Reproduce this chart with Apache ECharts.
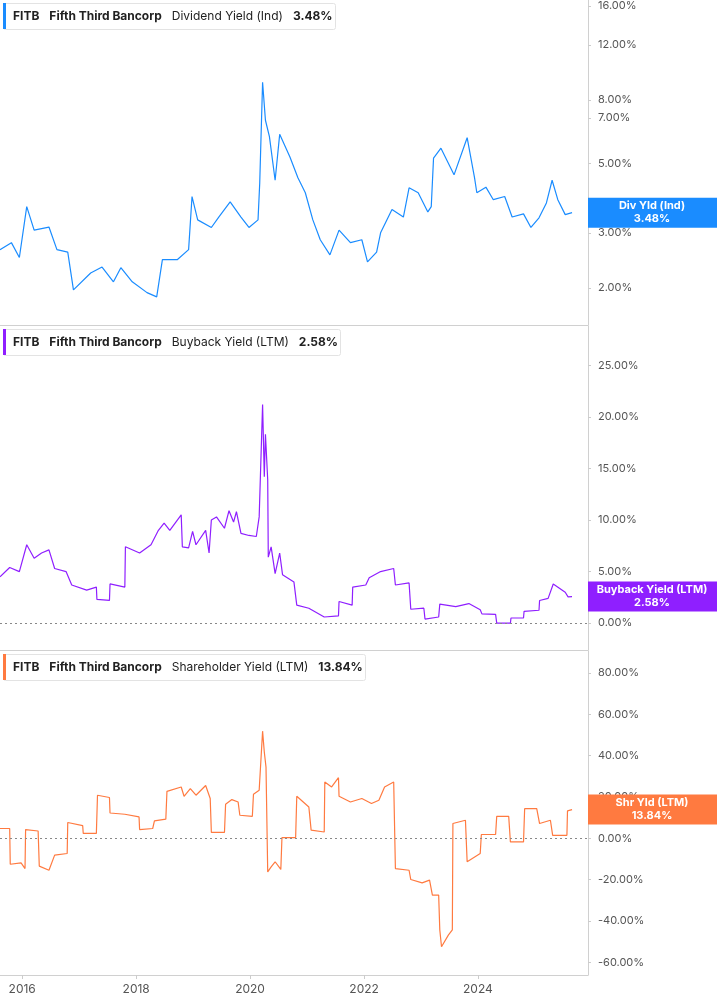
<!DOCTYPE html>
<html>
<head>
<meta charset="utf-8">
<title>FITB yields</title>
<script src="https://cdn.jsdelivr.net/npm/echarts@6/dist/echarts.min.js"></script>
<style>
  html, body { margin: 0; padding: 0; background: #fff; }
  #chart { width: 717px; height: 1005px; }
</style>
</head>
<body>
<div id="chart"></div>
<script>
// dates as decimal years
var divDates = [2015.61,2015.81,2015.95,2016.08,2016.21,2016.47,2016.61,2016.80,2016.90,2017.20,2017.40,2017.60,2017.73,2017.93,2018.19,2018.36,2018.46,2018.72,2018.92,2018.98,2019.08,2019.32,2019.45,2019.65,2019.84,2019.98,2020.14,2020.17,2020.22,2020.27,2020.34,2020.44,2020.52,2020.70,2020.84,2020.97,2021.10,2021.23,2021.40,2021.56,2021.76,2021.96,2022.06,2022.22,2022.29,2022.49,2022.69,2022.79,2022.95,2023.12,2023.18,2023.22,2023.35,2023.58,2023.81,2023.94,2023.98,2024.14,2024.27,2024.47,2024.60,2024.80,2024.93,2025.07,2025.20,2025.30,2025.40,2025.53,2025.65];
var divValues = [2.65,2.79,2.5,3.64,3.06,3.13,2.65,2.6,1.97,2.23,2.33,2.09,2.32,2.09,1.93,1.87,2.46,2.46,2.65,3.92,3.3,3.12,3.37,3.77,3.37,3.12,3.3,4.34,9.1,6.88,6.1,4.42,6.2,5.25,4.5,4.03,3.3,2.85,2.55,3.06,2.79,2.85,2.42,2.6,3.0,3.56,3.37,4.18,4.03,3.5,3.64,5.2,5.6,4.6,6.05,4.5,4.03,4.2,3.83,3.92,3.37,3.45,3.12,3.35,3.74,4.42,3.83,3.43,3.48];

var bbDates = [2015.61,2015.78,2015.95,2016.08,2016.21,2016.34,2016.47,2016.57,2016.77,2016.87,2017.13,2017.30,2017.31,2017.53,2017.54,2017.80,2017.81,2018.06,2018.26,2018.39,2018.49,2018.59,2018.79,2018.81,2018.92,2018.99,2019.05,2019.22,2019.28,2019.32,2019.41,2019.55,2019.63,2019.71,2019.76,2019.84,2019.98,2020.11,2020.16,2020.22,2020.25,2020.27,2020.31,2020.32,2020.37,2020.44,2020.52,2020.57,2020.77,2020.82,2021.03,2021.30,2021.55,2021.56,2021.79,2021.80,2022.03,2022.09,2022.29,2022.52,2022.55,2022.79,2022.82,2023.05,2023.07,2023.31,2023.33,2023.61,2023.84,2024.04,2024.07,2024.31,2024.33,2024.57,2024.58,2024.80,2024.81,2025.07,2025.08,2025.23,2025.32,2025.53,2025.58,2025.65];
var bbValues = [4.5,5.4,5.0,7.6,6.3,6.8,7.1,5.3,5.0,3.7,3.2,3.5,2.3,2.2,3.8,3.5,7.4,6.8,7.6,9.0,9.7,9.0,10.5,7.4,7.3,8.9,7.6,9.0,6.8,10.0,10.3,9.2,10.9,9.8,10.8,8.7,8.5,8.4,10.3,21.2,14.2,18.3,13.9,6.4,7.4,4.8,6.8,4.7,4.0,1.75,1.45,0.6,0.7,2.1,1.75,3.5,3.7,4.4,5.0,5.3,3.7,3.9,1.35,1.45,0.4,0.6,1.85,1.6,1.9,1.3,0.9,0.85,0.0,0.0,0.5,0.5,1.15,1.25,2.2,2.4,3.8,3.0,2.55,2.58];

var shDates = [2015.61,2015.78,2015.79,2015.98,2016.05,2016.06,2016.28,2016.30,2016.47,2016.57,2016.79,2016.80,2017.06,2017.07,2017.30,2017.32,2017.53,2017.54,2017.80,2018.05,2018.06,2018.29,2018.32,2018.52,2018.54,2018.79,2018.84,2018.95,2019.05,2019.22,2019.30,2019.32,2019.55,2019.57,2019.68,2019.79,2019.82,2020.04,2020.06,2020.16,2020.22,2020.25,2020.28,2020.31,2020.37,2020.44,2020.54,2020.56,2020.80,2020.82,2021.03,2021.07,2021.30,2021.31,2021.43,2021.55,2021.56,2021.76,2021.96,2022.13,2022.26,2022.36,2022.52,2022.55,2022.79,2022.82,2023.02,2023.15,2023.20,2023.31,2023.33,2023.36,2023.48,2023.55,2023.56,2023.78,2023.81,2024.04,2024.06,2024.31,2024.33,2024.54,2024.57,2024.80,2024.82,2025.03,2025.08,2025.27,2025.31,2025.56,2025.57,2025.65];
var shValues = [4.7,4.7,-12.6,-11.9,-14.7,4.2,3.5,-13.5,-15.5,-8.2,-7.4,7.6,6.1,2.3,2.3,20.8,19.7,12.2,11.6,10.3,4.2,4.7,8.4,9.2,22.7,24.8,20.3,24.0,20.8,25.5,19.2,2.8,2.8,16.4,18.7,17.5,11.1,10.6,21.3,23.2,51.8,41.7,34.4,-16.3,-13.9,-11.4,-15.1,0.3,0.3,20.3,15.1,3.9,3.0,27.2,24.8,29.3,20.3,17.5,19.2,16.8,18.4,24.8,27.2,-14.7,-15.5,-20.0,-21.6,-20.3,-27.5,-27.5,-44.4,-52.5,-46.9,-44.4,7.1,8.7,-11.4,-7.4,1.8,1.8,10.6,10.6,-1.8,-1.8,14.3,14.3,7.1,8.7,1.4,1.4,13.2,13.84];

var yearTicks = [2016, 2018, 2020, 2022, 2024];
var divTicks = [2, 3, 5, 7, 8, 12, 16];
var bbTicks = [0, 5, 10, 15, 20, 25];
var shTicks = [-60, -40, -20, 0, 20, 40, 60, 80];

var colors = ['#1a8cff', '#8f1fff', '#ff7a40'];

function toTs(y) {
    var yr = Math.floor(y);
    return Date.UTC(yr, 0, 1) + (y - yr) * 365.25 * 864e5;
}
function pairs(d, v) {
    var out = [];
    for (var i = 0; i < d.length; i++) out.push([toTs(d[i]), v[i]]);
    return out;
}

var xMin = toTs(2015.61), xMax = toTs(2025.93);
var lbl = { color: '#555', fontSize: 11, fontFamily: 'Inter', margin: 10 };
function pct(v) { return v.toFixed(2) + '%'; }

function xAxis(idx, last) {
    return {
        type: 'value', gridIndex: idx, min: xMin, max: xMax,
        axisLine: { show: true, onZero: false, lineStyle: { color: '#d0d0d0' } },
        axisTick: { show: last, customValues: yearTicks.map(toTs), length: 4, lineStyle: { color: '#ccc' } },
        splitLine: { show: false },
        axisLabel: {
            show: last, customValues: yearTicks.map(toTs), color: '#555', fontSize: 12, fontFamily: 'Inter',
            formatter: function (v) { return new Date(v).getUTCFullYear(); }
        }
    };
}
function yAxis(idx, type, min, max, ticks) {
    return {
        type: type, gridIndex: idx, position: 'right', min: min, max: max, logBase: 10,
        axisLine: { show: true, lineStyle: { color: '#d0d0d0' } },
        axisTick: { show: true, customValues: ticks, length: 3, lineStyle: { color: '#ccc' } },
        splitLine: { show: false },
        axisLabel: Object.assign({ customValues: ticks, formatter: pct }, lbl)
    };
}
var zeroLine = {
    silent: true, symbol: 'none',
    lineStyle: { color: '#888', type: [2, 3], width: 1 },
    label: { show: false },
    data: [{ yAxis: 0 }]
};

var chart = echarts.init(document.getElementById('chart'));
chart.setOption({
    animation: false,
    grid: [
        { left: 0, right: 129, top: 0, height: 325 },
        { left: 0, right: 129, top: 326, height: 324 },
        { left: 0, right: 129, top: 651, height: 324 }
    ],
    xAxis: [xAxis(0, false), xAxis(1, false), xAxis(2, true)],
    yAxis: [
        yAxis(0, 'log', 1.52, 16.7, divTicks),
        yAxis(1, 'value', -2.6, 28.8, bbTicks),
        yAxis(2, 'value', -66.2, 90.6, shTicks)
    ],
    series: [
        { type: 'line', xAxisIndex: 0, yAxisIndex: 0, data: pairs(divDates, divValues), showSymbol: false,
          lineStyle: { color: colors[0], width: 1.2 } },
        { type: 'line', xAxisIndex: 1, yAxisIndex: 1, data: pairs(bbDates, bbValues), showSymbol: false,
          lineStyle: { color: colors[1], width: 1.2 }, markLine: zeroLine },
        { type: 'line', xAxisIndex: 2, yAxisIndex: 2, data: pairs(shDates, shValues), showSymbol: false,
          lineStyle: { color: colors[2], width: 1.2 }, markLine: zeroLine }
    ]
});

// header boxes and last value badges
var heads = [
    { top: 3, w: 332, name: 'Dividend Yield (Ind)', val: '3.48%' },
    { top: 329, w: 337, name: 'Buyback Yield (LTM)', val: '2.58%' },
    { top: 654, w: 362, name: 'Shareholder Yield (LTM)', val: '13.84%' }
];
var badges = [
    { name: 'Div Yld (Ind)', val: '3.48%', v: divValues[divValues.length - 1] },
    { name: 'Buyback Yield (LTM)', val: '2.58%', v: bbValues[bbValues.length - 1] },
    { name: 'Shr Yld (LTM)', val: '13.84%', v: shValues[shValues.length - 1] }
];
var g = [];
heads.forEach(function (h, i) {
    g.push({ type: 'rect', left: 3, top: h.top, shape: { width: h.w, height: 26, r: 2 },
             style: { fill: '#fff', stroke: '#e3e3e3', lineWidth: 1 }, z: 10 });
    g.push({ type: 'rect', left: 3, top: h.top, shape: { width: 3, height: 26 }, style: { fill: colors[i] }, z: 11 });
    g.push({ type: 'text', left: 13, top: h.top + 7, z: 11,
             style: { text: '{b|FITB}   {b|Fifth Third Bancorp}   {n|' + h.name + '}   {b|' + h.val + '}',
                      rich: { b: { fontWeight: 'bold', fontSize: 12, fontFamily: 'Inter', fill: '#222' },
                              n: { fontSize: 12, fontFamily: 'Inter', fill: '#222' } } } });
});
badges.forEach(function (b, i) {
    var y = chart.convertToPixel({ yAxisIndex: i }, b.v);
    g.push({ type: 'rect', left: 588, top: y - 15, shape: { width: 129, height: 30 }, style: { fill: colors[i] }, z: 10 });
    g.push({ type: 'text', x: 652, y: y, z: 11,
             style: { text: b.name + '\n' + b.val, fill: '#fff', fontSize: 11, fontWeight: 'bold', fontFamily: 'Inter',
                      align: 'center', verticalAlign: 'middle', lineHeight: 13 } });
});
chart.setOption({ graphic: g });
</script>
</body>
</html>
